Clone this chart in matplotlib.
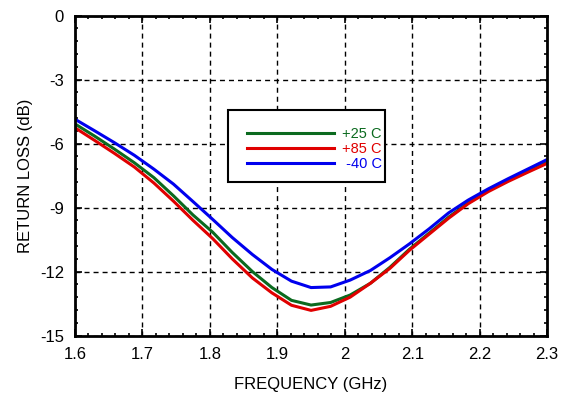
import matplotlib
matplotlib.use("Agg")
import matplotlib.pyplot as plt
from matplotlib.patches import Rectangle
from matplotlib.ticker import MultipleLocator, FormatStrFormatter

plt.rcParams['font.family'] = ['Liberation Sans', 'DejaVu Sans']

# frequency points (GHz)
freq = [1.600, 1.629, 1.658, 1.688, 1.717, 1.746, 1.775, 1.804, 1.833,
        1.863, 1.892, 1.921, 1.950, 1.979, 2.008, 2.038, 2.067, 2.096,
        2.125, 2.154, 2.183, 2.213, 2.242, 2.271, 2.300]

# return loss (dB) per temperature
rl_p25 = [-5.08, -5.65, -6.25, -6.90, -7.60, -8.45, -9.35, -10.15, -11.10,
          -12.00, -12.75, -13.35, -13.57, -13.45, -13.10, -12.55, -11.80, -10.95,
          -10.20, -9.45, -8.78, -8.20, -7.73, -7.30, -6.88]
rl_p85 = [-5.26, -5.85, -6.45, -7.10, -7.85, -8.70, -9.60, -10.45, -11.40,
          -12.30, -13.00, -13.58, -13.82, -13.63, -13.20, -12.55, -11.85, -11.00,
          -10.25, -9.50, -8.82, -8.25, -7.78, -7.35, -6.93]
rl_m40 = [-4.86, -5.40, -5.95, -6.55, -7.20, -7.90, -8.72, -9.55, -10.40,
          -11.20, -11.90, -12.45, -12.75, -12.72, -12.40, -11.95, -11.35, -10.70,
          -10.00, -9.25, -8.65, -8.12, -7.65, -7.20, -6.75]

labels = ['+25 C', '+85 C', ' -40 C']
colors = ['#0b6a1f', '#e00000', '#0000ee']

fig = plt.figure(figsize=(5.64, 3.99), dpi=100)
ax = fig.add_axes([0.133, 0.159, 0.837, 0.802])

for y, lab, c in zip([rl_p25, rl_p85, rl_m40], labels, colors):
    ax.plot(freq, y, color=c, lw=2.2, label=lab)

ax.set_xlim(1.6, 2.3)
ax.set_ylim(-15, 0)
ax.xaxis.set_major_locator(MultipleLocator(0.1))
ax.xaxis.set_minor_locator(MultipleLocator(0.02))
ax.yaxis.set_major_locator(MultipleLocator(3))
ax.yaxis.set_minor_locator(MultipleLocator(0.6))
ax.xaxis.set_major_formatter(FormatStrFormatter('%g'))
ax.yaxis.set_major_formatter(FormatStrFormatter('%g'))

ax.grid(True, which='major', color='black', lw=1.0, linestyle=(0, (3.6, 2.9)))
ax.tick_params(which='both', direction='in', top=True, right=True,
               labelsize=12, pad=8)
ax.tick_params(which='major', length=5, width=1.2)
ax.tick_params(which='minor', length=2.5, width=1.2)
for s in ax.spines.values():
    s.set_linewidth(2)

ax.set_xlabel('FREQUENCY (GHz)', fontsize=12, labelpad=11)
ax.set_ylabel('RETURN LOSS (dB)', fontsize=12, labelpad=5)

# key: entries without frame, box drawn separately
leg = ax.legend(loc='upper left', bbox_to_anchor=(0.364, 0.652), frameon=False,
                fontsize=10.5, handlelength=6.0, handletextpad=0.55,
                labelspacing=0.08, borderpad=0, borderaxespad=0,
                labelcolor='linecolor')
ax.add_patch(Rectangle((0.324, 0.48), 0.333, 0.225, transform=ax.transAxes,
                       facecolor='white', edgecolor='black', lw=1.5, zorder=4))
leg.set_zorder(5)

fig.savefig('out.png', dpi=100)
